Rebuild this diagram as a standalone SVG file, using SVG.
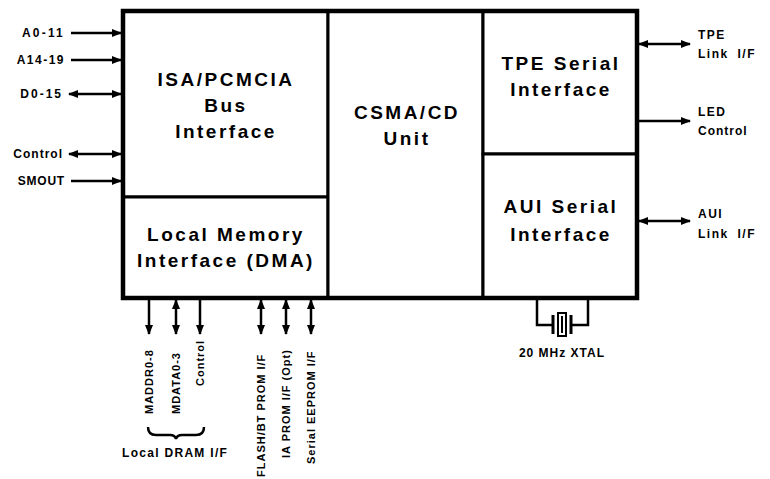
<svg xmlns="http://www.w3.org/2000/svg" width="770" height="479" viewBox="0 0 770 479">
<defs>
<marker id="ah" viewBox="0 0 10 10" refX="9" refY="5" markerWidth="10" markerHeight="10" markerUnits="userSpaceOnUse" orient="auto-start-reverse">
<path d="M0,1 L10,5 L0,9 z" fill="#000"/>
</marker>
<style>
.box{fill:#fff;stroke:#000;stroke-width:3}
.t{font-family:"Liberation Sans",Arial,sans-serif;font-weight:bold;font-size:19px;text-anchor:middle;fill:#000;letter-spacing:2.5px}
.s{font-family:"Liberation Sans",Arial,sans-serif;font-weight:bold;font-size:12px;fill:#000;letter-spacing:1.5px}
.r{font-family:"Liberation Sans",Arial,sans-serif;font-weight:bold;font-size:11px;fill:#000;letter-spacing:1px}
.w{stroke:#000;stroke-width:2.5;fill:none}
.a{marker-end:url(#ah)}
.b{marker-start:url(#ah);marker-end:url(#ah)}
</style>
</defs>
<rect width="770" height="479" fill="#fff"/>
<g id="isa">
<rect class="box" x="123" y="11" width="205" height="186"/>
<text class="t" x="226" y="86">ISA/PCMCIA</text>
<text class="t" x="226" y="112">Bus</text>
<text class="t" x="226" y="138">Interface</text>
</g>
<g id="lmi">
<rect class="box" x="123" y="197" width="205" height="101"/>
<text class="t" x="226" y="241">Local Memory</text>
<text class="t" x="226" y="267">Interface (DMA)</text>
</g>
<g id="csma">
<rect class="box" x="328" y="11" width="155" height="287"/>
<text class="t" x="407" y="119">CSMA/CD</text>
<text class="t" x="407" y="145">Unit</text>
</g>
<g id="tpe">
<rect class="box" x="483" y="11" width="154" height="143"/>
<text class="t" x="561" y="70">TPE Serial</text>
<text class="t" x="561" y="96">Interface</text>
</g>
<g id="aui">
<rect class="box" x="483" y="154" width="154" height="144"/>
<text class="t" x="561" y="213">AUI Serial</text>
<text class="t" x="561" y="241">Interface</text>
</g>
<g id="frame">
<rect x="123" y="11" width="514" height="287" fill="none" stroke="#000" stroke-width="4.5"/>
</g>
<g id="connectors">
<line class="w a" x1="71" y1="33" x2="121" y2="33"/>
<line class="w a" x1="71" y1="60" x2="121" y2="60"/>
<line class="w b" x1="69" y1="94" x2="121" y2="94"/>
<line class="w b" x1="69" y1="154" x2="121" y2="154"/>
<line class="w a" x1="71" y1="181" x2="121" y2="181"/>
<line class="w b" x1="639" y1="44" x2="690" y2="44"/>
<line class="w a" x1="639" y1="121" x2="690" y2="121"/>
<line class="w b" x1="639" y1="221" x2="690" y2="221"/>
<line class="w a" x1="149" y1="299" x2="149" y2="334"/>
<line class="w b" x1="176" y1="300" x2="176" y2="334"/>
<line class="w a" x1="200" y1="299" x2="200" y2="334"/>
<line class="w b" x1="261" y1="300" x2="261" y2="334"/>
<line class="w b" x1="286" y1="300" x2="286" y2="334"/>
<line class="w b" x1="311" y1="300" x2="311" y2="334"/>
<path class="w" d="M537,298 V325 H553 M588,298 V325 H571"/>
<line x1="553" y1="315" x2="553" y2="334" stroke="#000" stroke-width="3"/>
<line x1="571" y1="315" x2="571" y2="334" stroke="#000" stroke-width="3"/>
<rect x="558" y="313" width="8" height="23" fill="#fff" stroke="#000" stroke-width="2"/>
<line x1="562" y1="316" x2="562" y2="333" stroke="#000" stroke-width="2"/>
<path class="w" d="M148,427 q0,8 8,8 h14 q5,0 6,4 q1,-4 6,-4 h14 q8,0 8,-8" stroke-width="2"/>
</g>
<g id="labels">
<text class="s" x="65" y="37" text-anchor="end" style="letter-spacing:2.2px">A0-11</text>
<text class="s" x="65" y="64" text-anchor="end">A14-19</text>
<text class="s" x="63" y="98" text-anchor="end" style="letter-spacing:2px">D0-15</text>
<text class="s" x="63" y="158" text-anchor="end" style="letter-spacing:1px">Control</text>
<text class="s" x="65" y="185" text-anchor="end" style="letter-spacing:0.8px">SMOUT</text>
<text class="s" x="698" y="39">TPE</text>
<text class="s" x="698" y="58" word-spacing="4">Link I/F</text>
<text class="s" x="698" y="116">LED</text>
<text class="s" x="698" y="135" style="letter-spacing:1px">Control</text>
<text class="s" x="698" y="218">AUI</text>
<text class="s" x="698" y="238" word-spacing="4">Link I/F</text>
<text class="r" transform="translate(153,414) rotate(-90)">MADDR0-8</text>
<text class="r" transform="translate(180,414) rotate(-90)">MDATA0-3</text>
<text class="r" transform="translate(204,386) rotate(-90)">Control</text>
<text class="r" transform="translate(265,477) rotate(-90)">FLASH/BT PROM I/F</text>
<text class="r" transform="translate(290,458) rotate(-90)">IA PROM I/F (Opt)</text>
<text class="r" transform="translate(315,464) rotate(-90)">Serial EEPROM I/F</text>
<text class="s" x="122" y="457" style="letter-spacing:1.3px">Local DRAM I/F</text>
<text class="s" x="562" y="357" text-anchor="middle" style="letter-spacing:1px">20 MHz XTAL</text>
</g>
</svg>
